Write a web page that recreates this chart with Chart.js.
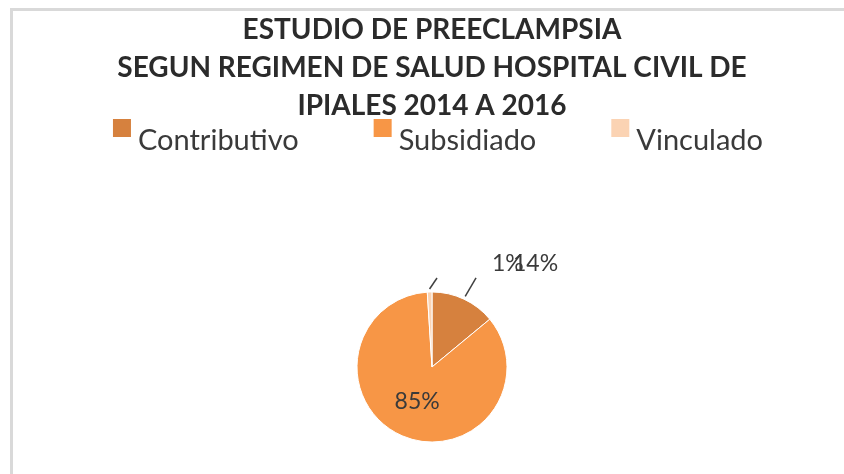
<!DOCTYPE html>
<html><head><meta charset="utf-8">
<script src="https://cdn.jsdelivr.net/npm/chart.js@4/dist/chart.umd.min.js"></script>
<style>
html,body{margin:0;padding:0;background:#fff;width:844px;height:474px;overflow:hidden;}
#frame{position:absolute;left:10px;top:8px;width:900px;height:600px;border-top:3px solid #d9d9d9;border-left:3px solid #d9d9d9;}
#wrap{position:absolute;left:0;top:0;width:844px;height:474px;}
</style></head><body>
<div id="frame"></div>
<div id="wrap"><canvas id="c" width="844" height="474"></canvas></div>
<script>
const titleLines = ["ESTUDIO DE PREECLAMPSIA", "SEGUN REGIMEN DE SALUD HOSPITAL CIVIL DE", "IPIALES 2014 A 2016"];
const categories = ["Contributivo", "Subsidiado", "Vinculado"];
const percentages = [14, 85, 1];
const sliceColors = ["#D6813E", "#F79646", "#FBD3B3"];

const FONT = "Lato, 'Open Sans', sans-serif";

const legendRow = {
  id: 'legendRow',
  afterDraw(chart, args, opts) {
    const ctx = chart.ctx;
    const ds = chart.data.datasets[0];
    ctx.save();
    ctx.font = opts.fontSize + 'px ' + FONT;
    const widths = chart.data.labels.map(l => ctx.measureText(l).width);
    const total = widths.reduce((a, w) => a + opts.box + opts.boxGap + w, 0) + opts.itemGap * (widths.length - 1);
    let x = opts.centerX - total / 2;
    chart.data.labels.forEach((lab, i) => {
      ctx.fillStyle = ds.backgroundColor[i];
      ctx.fillRect(x, opts.boxTop, opts.box, opts.box);
      ctx.fillStyle = opts.color;
      ctx.textBaseline = 'middle';
      ctx.textAlign = 'left';
      ctx.fillText(lab, x + opts.box + opts.boxGap, opts.textY);
      x += opts.box + opts.boxGap + widths[i] + opts.itemGap;
    });
    ctx.restore();
  }
};

const pieLabels = {
  id: 'pieLabels',
  afterDatasetsDraw(chart, args, opts) {
    const ctx = chart.ctx;
    const meta = chart.getDatasetMeta(0);
    const vals = chart.data.datasets[0].data;
    const sum = vals.reduce((a, b) => a + b, 0);
    ctx.save();
    ctx.font = opts.fontSize + 'px ' + FONT;
    ctx.fillStyle = opts.color;
    ctx.textBaseline = 'middle';
    meta.data.forEach((arc, i) => {
      const p = arc.getProps(['x', 'y', 'startAngle', 'endAngle', 'outerRadius'], true);
      const mid = (p.startAngle + p.endAngle) / 2;
      const r = p.outerRadius;
      const txt = Math.round(vals[i] / sum * 100) + '%';
      const pl = opts.placements[i];
      if (!pl.outside) {
        ctx.textAlign = 'center';
        ctx.fillText(txt, p.x + Math.cos(mid) * r * pl.frac, p.y + Math.sin(mid) * r * pl.frac);
      } else {
        const sx = p.x + Math.cos(mid) * (r + 3), sy = p.y + Math.sin(mid) * (r + 3);
        const ex = p.x + pl.lineEnd[0] * r, ey = p.y + pl.lineEnd[1] * r;
        ctx.strokeStyle = '#404040';
        ctx.lineWidth = 1.5;
        ctx.beginPath(); ctx.moveTo(sx, sy); ctx.lineTo(ex, ey); ctx.stroke();
        ctx.textAlign = 'left';
        ctx.fillText(txt, p.x + pl.text[0] * r, p.y + pl.text[1] * r);
      }
    });
    ctx.restore();
  }
};

new Chart(document.getElementById('c'), {
  type: 'pie',
  data: {
    labels: categories,
    datasets: [{
      data: percentages,
      backgroundColor: sliceColors,
      borderColor: '#ffffff',
      borderWidth: 1,
      radius: 75
    }]
  },
  options: {
    responsive: false,
    animation: false,
    layout: { padding: { left: 20 } },
    plugins: {
      legend: { display: false },
      tooltip: { enabled: false },
      title: {
        display: true,
        text: titleLines,
        color: '#2b2b2b',
        font: { family: FONT, size: 28, weight: 'bold', lineHeight: 1.357 },
        padding: { top: 11, bottom: 135 }
      },
      legendRow: { fontSize: 29, color: '#3a3a3a', box: 18, boxGap: 7, itemGap: 75, centerX: 438, boxTop: 119, textY: 141 },
      pieLabels: {
        fontSize: 23, color: '#3a3a3a',
        placements: [
          { outside: true, lineEnd: [0.587, -1.187], text: [1.08, -1.373] },
          { outside: false, frac: 0.5 },
          { outside: true, lineEnd: [0.067, -1.187], text: [0.8, -1.373] }
        ]
      }
    }
  },
  plugins: [legendRow, pieLabels]
});
</script>
</body></html>
